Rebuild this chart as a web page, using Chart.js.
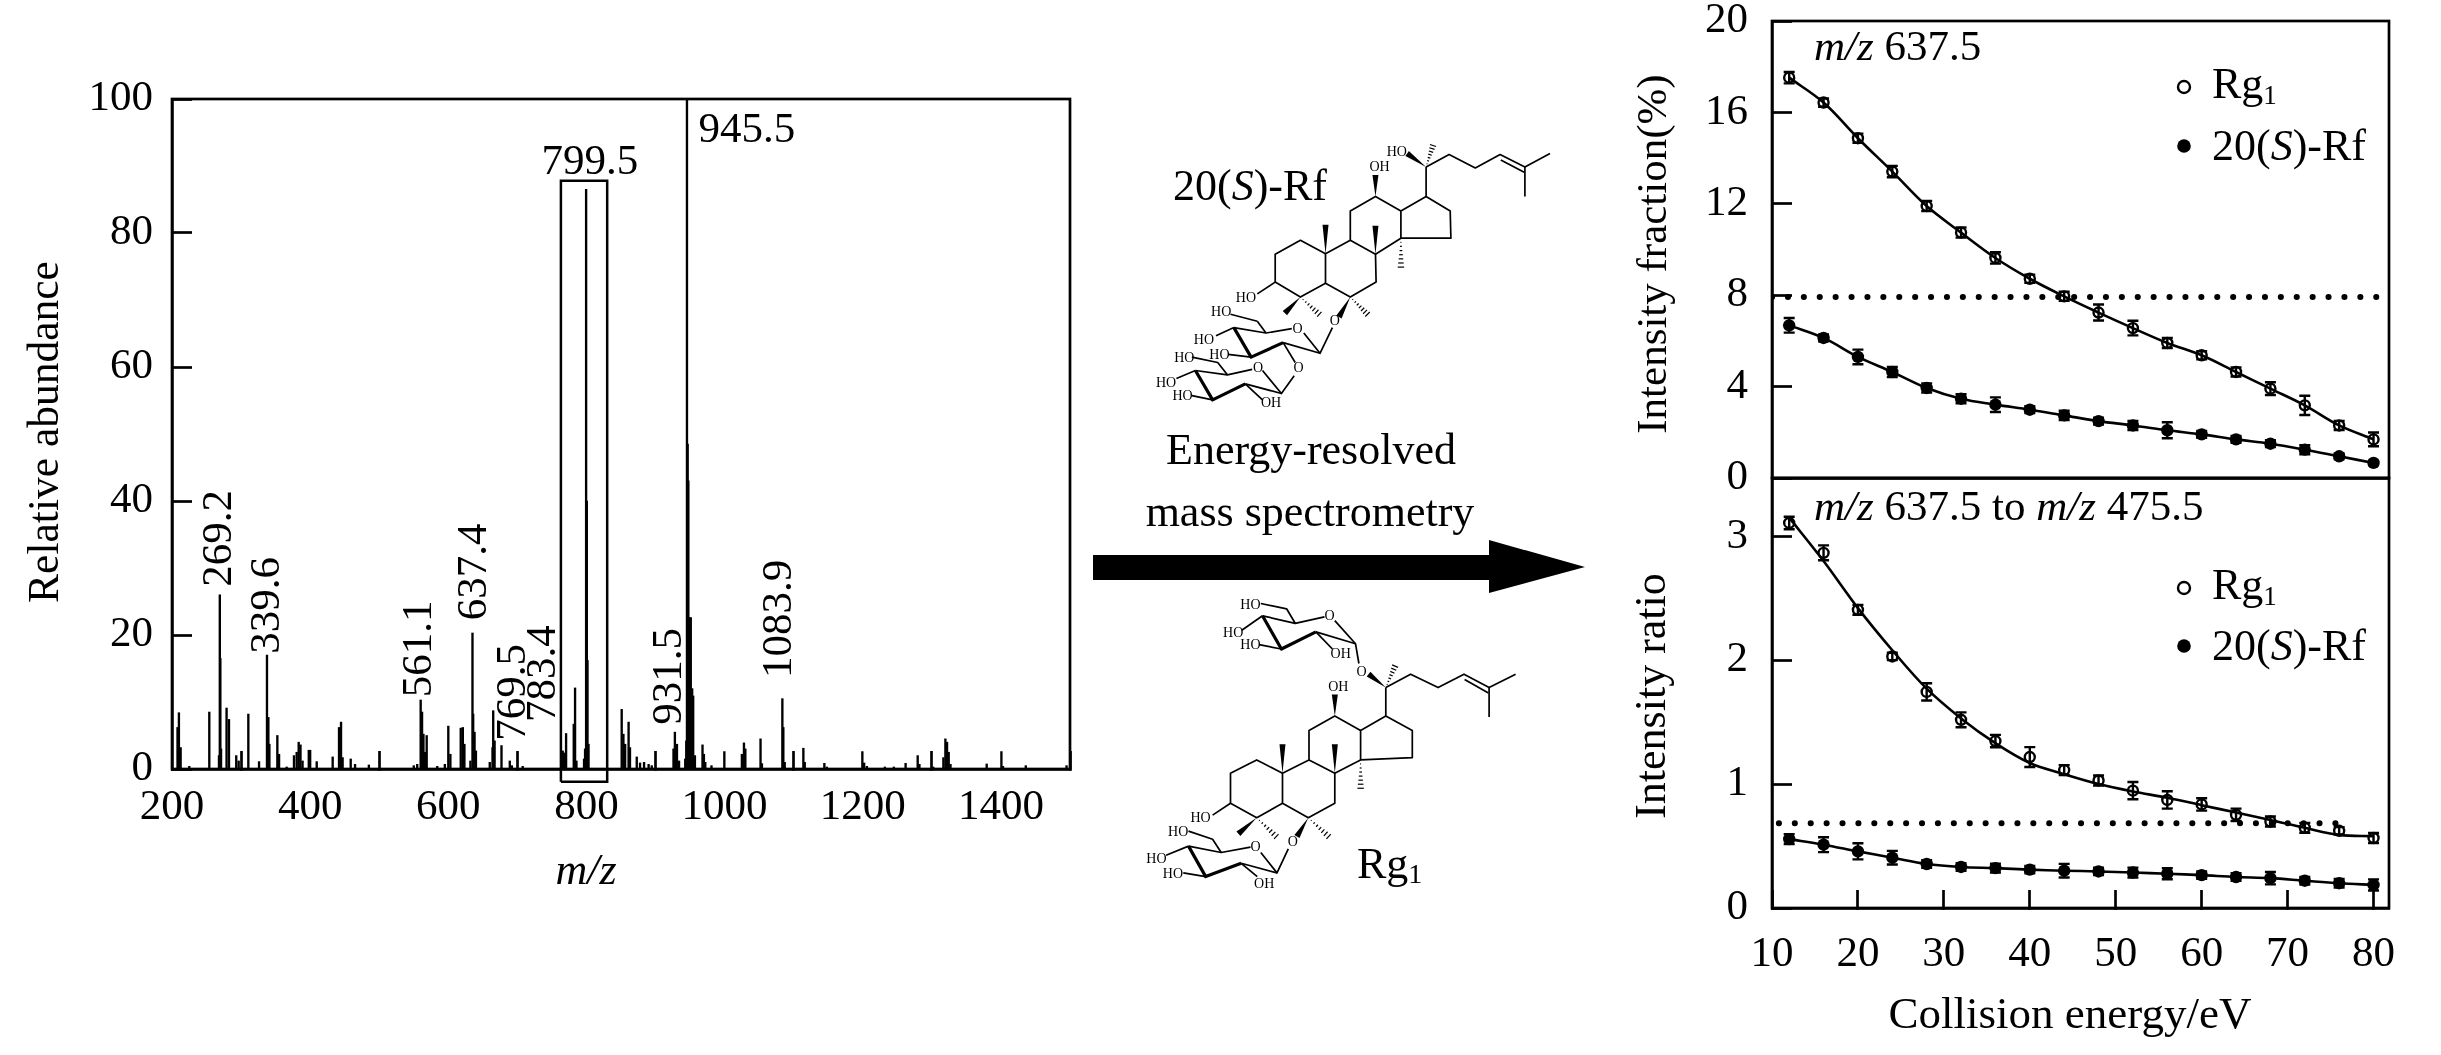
<!DOCTYPE html>
<html>
<head>
<meta charset="utf-8">
<script src="https://cdn.jsdelivr.net/npm/chart.js@4"></script>
<style>
html, body { margin: 0; padding: 0; background: #fff; overflow: hidden; }
canvas, svg { position: absolute; }
svg text { font-family: "Liberation Serif"; fill: #000; }
</style>
</head>
<body>
<canvas id="spectrum" width="1085" height="1055" style="left:0;top:0"></canvas>
<canvas id="fraction" width="841" height="560" style="left:1600px;top:-40px"></canvas>
<canvas id="ratio" width="841" height="625" style="left:1600px;top:430px"></canvas>
<svg id="overlay" width="2441" height="1055" style="left:0;top:0"></svg>
<script>
// spectrum peaks, m/z and relative abundance
const peakMz = [208, 210, 212.5, 225, 254, 268, 269.2, 270, 271, 279, 282.5, 293, 296.5, 310.5, 326, 337.5, 339.5, 341, 352.5, 355, 366,
  376.6, 380.5, 383.4, 386, 389, 398, 400, 409.5, 432.6, 441.8, 444.7, 447, 458.7, 465, 485, 550, 555, 560, 562, 564, 566.5, 568.7,
  584, 595, 600, 603, 618, 621, 623.3, 632, 635, 636, 638, 640, 660, 664, 665, 667, 677, 689, 692, 707.7,
  765.6, 767.5, 770.5, 781.6, 783.5, 785.5, 796.5, 798, 799.5, 800.5, 801.5, 803, 851, 853.5, 856, 861, 863, 872.8, 877.6, 883.4, 890, 894.5,
  926, 928, 931, 934, 943, 944.5, 945.5, 946.5, 947.5, 949, 951, 953, 954.5, 957, 968, 970, 972, 981, 999.6, 1025, 1028, 1030,
  1052, 1054, 1083.6, 1085, 1087, 1114, 1116, 1144.4, 1148, 1199.4, 1202, 1206, 1232, 1245, 1262, 1279.5, 1282, 1302, 1316.7, 1319.6, 1322, 1324.4, 1327,
  1379.4, 1400.7, 1403, 1436, 1495];
const peakAbundance = [6.2, 8.4, 3.2, 0.4, 8.5, 2, 26, 16.5, 3, 9.1, 7.4, 2, 1.2, 8.2, 1.1, 17, 7.7, 3.7, 5, 2.2, 0.3,
  2, 2.5, 4, 3.6, 1.2, 2.8, 2.8, 1.1, 1.8, 6.2, 7, 1.7, 1.5, 0.7, 0.6, 0.5, 0.7, 10.3, 8.5, 5.2, 2.5, 5,
  0.4, 0.7, 6.4, 2.2, 6.1, 6.2, 3.7, 1.2, 20.3, 8.2, 5.5, 2.7, 1, 3.2, 8.7, 4.2, 3.5, 1.2, 0.5, 0.4,
  2.7, 2.4, 5.3, 6.7, 12.1, 1.2, 1.5, 3, 86.5, 40, 16.2, 3.7, 8.9, 5.2, 3.7, 7, 3.2, 1.8, 0.9, 1, 0.7, 0.5,
  3, 5.5, 3.7, 1.2, 1.5, 4.2, 100, 48.5, 43, 22.6, 22.6, 12, 10.9, 2, 3.6, 2.2, 1, 0.5, 2.6, 2.2, 3.9, 3,
  4.5, 0.8, 10.5, 6.2, 1, 3.1, 1, 0.85, 0.3, 2.6, 0.9, 0.4, 0.3, 0.3, 0.85, 2, 0.7, 0.3, 1.7, 4.5, 4, 2.5, 0.7,
  0.75, 2.6, 0.4, 0.5, 0.5];
const massTicks = { min: 200, max: 1500, step: 200 };
// [text, m/z, abundance] - text foot / centre sits at this data position
const uprightLabels = [['269.2', 263.7, 27.2], ['339.6', 332.6, 17.2], ['561.1', 553.2, 10.7], ['637.4', 632.8, 22.2],
  ['769.5', 689.3, 4.2], ['783.4', 732.7, 7], ['931.5', 915, 6.6], ['1083.9', 1074.3, 13.6]];
const flatLabels = [['799.5', 805, 91], ['945.5', 1032.4, 95.7]];
const boxMz = [763, 763, 830, 830, 763];
const boxAbundance = [-1.9, 87.8, 87.8, -1.9, -1.9];

// collision energy curves
const energy = [12, 16, 20, 24, 28, 32, 36, 40, 44, 48, 52, 56, 60, 64, 68, 72, 76, 80];
const fractionRg1 = [17.52, 16.43, 14.87, 13.41, 11.9, 10.74, 9.63, 8.72, 7.95, 7.24, 6.56, 5.91, 5.37, 4.64, 3.91, 3.18, 2.3, 1.69];
const fractionRg1Err = [0.25, 0.18, 0.2, 0.25, 0.22, 0.22, 0.25, 0.18, 0.2, 0.35, 0.32, 0.22, 0.18, 0.2, 0.28, 0.42, 0.2, 0.3];
const fractionRf = [6.68, 6.13, 5.3, 4.64, 3.94, 3.47, 3.21, 2.99, 2.74, 2.49, 2.3, 2.09, 1.91, 1.69, 1.5, 1.24, 0.95, 0.66];
const fractionRfErr = [0.32, 0.15, 0.32, 0.22, 0.2, 0.2, 0.32, 0.15, 0.2, 0.15, 0.2, 0.35, 0.15, 0.15, 0.15, 0.2, 0.12, 0.1];
const ratioRg1 = [3.107, 2.866, 2.406, 2.03, 1.744, 1.519, 1.347, 1.218, 1.113, 1.029, 0.947, 0.872, 0.836, 0.752, 0.698, 0.647, 0.623, 0.565];
const ratioRg1Fit = [3.15, 2.8, 2.42, 2.08, 1.77, 1.53, 1.33, 1.17, 1.08, 1, 0.94, 0.89, 0.83, 0.77, 0.71, 0.647, 0.59, 0.58];
const ratioRg1Err = [0.05, 0.06, 0.04, 0.03, 0.07, 0.06, 0.05, 0.08, 0.04, 0.04, 0.07, 0.07, 0.05, 0.05, 0.04, 0.04, 0.03, 0.04];
const ratioRf = [0.556, 0.511, 0.457, 0.406, 0.355, 0.331, 0.322, 0.31, 0.301, 0.295, 0.286, 0.277, 0.265, 0.25, 0.241, 0.22, 0.2, 0.186];
const ratioRfErr = [0.04, 0.06, 0.065, 0.055, 0.03, 0.03, 0.035, 0.03, 0.055, 0.03, 0.04, 0.045, 0.03, 0.03, 0.05, 0.03, 0.035, 0.045];
const fractionThreshold = { x: [10, 81.8], y: 7.92 };
const ratioThreshold = { x: [10.8, 77.3], y: 0.683 };

const FONT = 'Liberation Serif';
const pairs = (xs, ys) => xs.map((x, i) => ({ x, y: ys[i] }));

// frame round the plot, the axes only give the left and bottom edge
const framePlugin = {
  id: 'frame',
  afterDraw(chart) {
    const { ctx, chartArea: a } = chart;
    ctx.save();
    ctx.strokeStyle = '#000';
    ctx.lineWidth = 2.7;
    ctx.strokeRect(a.left, a.top, a.right - a.left, a.bottom - a.top);
    ctx.restore();
  }
};

const errorPlugin = {
  id: 'errorBars',
  beforeDatasetsDraw(chart) {
    const { ctx, scales } = chart;
    ctx.save();
    ctx.strokeStyle = '#000';
    ctx.lineWidth = 2.4;
    chart.data.datasets.forEach(ds => {
      if (!ds.errors) return;
      ds.data.forEach((p, i) => {
        const x = scales.x.getPixelForValue(p.x);
        const y1 = scales.y.getPixelForValue(p.y - ds.errors[i]);
        const y2 = scales.y.getPixelForValue(p.y + ds.errors[i]);
        ctx.beginPath();
        ctx.moveTo(x, y1); ctx.lineTo(x, y2);
        ctx.moveTo(x - 5.5, y1); ctx.lineTo(x + 5.5, y1);
        ctx.moveTo(x - 5.5, y2); ctx.lineTo(x + 5.5, y2);
        ctx.stroke();
      });
    });
    ctx.restore();
  }
};

const peakLabelPlugin = {
  id: 'peakLabels',
  afterDatasetsDraw(chart) {
    const { ctx, scales } = chart;
    ctx.save();
    ctx.fillStyle = '#000';
    ctx.font = '43px "' + FONT + '"';
    uprightLabels.forEach(([t, mz, ab]) => {
      ctx.save();
      ctx.translate(scales.x.getPixelForValue(mz) + 4, scales.y.getPixelForValue(ab));
      ctx.rotate(-Math.PI / 2);
      ctx.textAlign = 'left';
      ctx.textBaseline = 'middle';
      ctx.fillText(t, 0, 0);
      ctx.restore();
    });
    ctx.textAlign = 'center';
    ctx.textBaseline = 'middle';
    flatLabels.forEach(([t, mz, ab]) => {
      ctx.fillText(t, scales.x.getPixelForValue(mz), scales.y.getPixelForValue(ab) + 3);
    });
    ctx.restore();
  }
};

function yAxis(min, max, step, width, padding) {
  return {
    min, max,
    afterFit(s) { s.width = width; s.paddingTop = 0; s.paddingBottom = 0; },
    border: { width: 2.7, color: '#000' },
    grid: { drawOnChartArea: false, tickLength: -20, tickWidth: 2.7, tickColor: '#000' },
    ticks: { stepSize: step, includeBounds: false, padding, color: '#000', font: { family: FONT, size: 43 }, autoSkip: false }
  };
}

function xAxis(min, max, step, height, padding, showTicks) {
  return {
    type: 'linear', min, max, offset: false,
    afterFit(s) { s.height = height; s.paddingLeft = 0; s.paddingRight = 0; },
    border: { width: 2.7, color: '#000' },
    grid: { drawOnChartArea: false, drawTicks: showTicks, tickLength: -18, tickWidth: 2.7, tickColor: '#000' },
    ticks: { display: showTicks, stepSize: step, includeBounds: false, padding, maxRotation: 0, autoSkip: false,
      callback: v => String(v), color: '#000', font: { family: FONT, size: 43 } }
  };
}

new Chart(document.getElementById('spectrum'), {
  type: 'bar',
  data: {
    datasets: [
      { data: pairs(peakMz, peakAbundance), backgroundColor: '#000', barThickness: 1.7, grouped: false },
      { type: 'line', data: pairs(boxMz, boxAbundance), borderColor: '#000', borderWidth: 2.5, pointRadius: 0, tension: 0, clip: false }
    ]
  },
  options: {
    responsive: false, animation: false, devicePixelRatio: 1,
    layout: { padding: { top: 99, right: 15 } },
    plugins: { legend: { display: false }, tooltip: { enabled: false } },
    scales: {
      x: xAxis(massTicks.min, massTicks.max, massTicks.step, 286, 31, true),
      y: yAxis(0, 100, 20, 172, 39)
    }
  },
  plugins: [framePlugin, peakLabelPlugin]
});

function curveSets(values, fit, errors, threshold) {
  const curve = (v, e, f) => ({
    data: pairs(energy, v), errors: e, showLine: false,
    pointRadius: f ? 6.2 : 5, borderWidth: f ? 0 : 2.4,
    pointBorderColor: '#000', pointBackgroundColor: f ? '#000' : 'rgba(0,0,0,0)'
  });
  const line = v => ({ data: pairs(energy, v), showLine: true, pointRadius: 0, borderColor: '#000', borderWidth: 2.6, tension: 0.35 });
  return [
    { data: pairs(threshold.x, [threshold.y, threshold.y]), showLine: true, pointRadius: 0, borderColor: '#000',
      borderWidth: 6, borderDash: [0.1, 15.8], borderCapStyle: 'round' },
    line(fit[0]), line(fit[1]),
    curve(values[0], errors[0], false), curve(values[1], errors[1], true)
  ];
}

new Chart(document.getElementById('fraction'), {
  type: 'scatter',
  data: { datasets: curveSets([fractionRg1, fractionRf], [fractionRg1, fractionRf], [fractionRg1Err, fractionRfErr], fractionThreshold) },
  options: {
    responsive: false, animation: false, devicePixelRatio: 1,
    layout: { padding: { top: 61, right: 52 } },
    plugins: { legend: { display: false }, tooltip: { enabled: false } },
    scales: {
      x: xAxis(10, 81.8, 10, 42, 30, false),
      y: yAxis(0, 20, 4, 172, 44)
    }
  },
  plugins: [framePlugin, errorPlugin]
});

new Chart(document.getElementById('ratio'), {
  type: 'scatter',
  data: { datasets: curveSets([ratioRg1, ratioRf], [ratioRg1Fit, ratioRf], [ratioRg1Err, ratioRfErr], ratioThreshold) },
  options: {
    responsive: false, animation: false, devicePixelRatio: 1,
    layout: { padding: { top: 48, right: 52 } },
    plugins: { legend: { display: false }, tooltip: { enabled: false } },
    scales: {
      x: xAxis(10, 81.8, 10, 147, 39, true),
      y: yAxis(0, 3.47, 1, 172, 44)
    }
  },
  plugins: [framePlugin, errorPlugin]
});

// everything that is not a chart: axis titles, notes, legends, the two structures
const svg = document.getElementById('overlay');
const NS = 'http://www.w3.org/2000/svg';
function add(tag, attrs, html) {
  const el = document.createElementNS(NS, tag);
  for (const k in attrs) el.setAttribute(k, attrs[k]);
  if (html) el.innerHTML = html;
  svg.appendChild(el);
  return el;
}
function text(html, x, y, size, opts) {
  opts = opts || {};
  const attrs = { x, y, 'font-size': size, 'text-anchor': opts.anchor || 'start' };
  if (opts.rot) attrs.transform = 'rotate(' + opts.rot + ' ' + x + ' ' + y + ')';
  if (opts.mid) attrs['dominant-baseline'] = 'central';
  return add('text', attrs, html);
}
const it = s => '<tspan font-style="italic">' + s + '</tspan>';
const sub = s => '<tspan font-size="27" dy="6">' + s + '</tspan>';

text('Relative abundance', 43, 432, 43.5, { anchor: 'middle', rot: -90, mid: true });
text(it('m/z'), 586, 884, 44, { anchor: 'middle' });
text('Intensity fraction(%)', 1651, 254, 43, { anchor: 'middle', rot: -90, mid: true });
text('Intensity ratio', 1650, 696, 44, { anchor: 'middle', rot: -90, mid: true });
text('Collision energy/eV', 2070, 1028, 45, { anchor: 'middle' });
text(it('m/z') + ' 637.5', 1814, 60, 43);
text(it('m/z') + ' 637.5 to ' + it('m/z') + ' 475.5', 1814, 520, 43);

function legend(y1, y2) {
  add('circle', { cx: 2184, cy: y1, r: 6, fill: 'none', stroke: '#000', 'stroke-width': 2.4 });
  text('Rg' + sub('1'), 2212, y1 + 11, 44);
  add('circle', { cx: 2184, cy: y2, r: 6.8, fill: '#000' });
  text('20(' + it('S') + ')-Rf', 2212, y2 + 14, 44);
}
legend(87, 146);
legend(588, 646);

// structures, noted in crop coordinates and mapped on the page here
const mx = X => 1080 + X / 2.904, my = Y => 100 + Y / 1.867;
function bonds(list, width) {
  list.forEach(pts => {
    add('polyline', { points: pts.map(p => mx(p[0]).toFixed(1) + ',' + my(p[1]).toFixed(1)).join(' '),
      fill: 'none', stroke: '#000', 'stroke-width': width || 1.7, 'stroke-linejoin': 'round' });
  });
}
function wedge(a, b) {
  const dx = mx(b[0]) - mx(a[0]), dy = my(b[1]) - my(a[1]), l = Math.hypot(dx, dy);
  const nx = -dy / l * 3, ny = dx / l * 3;
  add('polygon', { points: [mx(a[0]), my(a[1]), mx(b[0]) + nx, my(b[1]) + ny, mx(b[0]) - nx, my(b[1]) - ny].join(' '), fill: '#000' });
}
function hash(a, b) {
  const x0 = mx(a[0]), y0 = my(a[1]), x1 = mx(b[0]), y1 = my(b[1]);
  const l = Math.hypot(x1 - x0, y1 - y0), nx = -(y1 - y0) / l, ny = (x1 - x0) / l;
  for (let i = 1; i <= 7; i++) {
    const t = i / 7, w = t * 3.2, x = x0 + (x1 - x0) * t, y = y0 + (y1 - y0) * t;
    add('line', { x1: x - nx * w, y1: y - ny * w, x2: x + nx * w, y2: y + ny * w, stroke: '#000', 'stroke-width': 1.2 });
  }
}
function atoms(list) {
  list.forEach(a => text(a[0], mx(a[1]), my(a[2]), 14, { anchor: 'middle', mid: true }));
}

// 20(S)-Rf
bonds([
  [[1005, 125], [1072, 102], [1148, 127], [1220, 102], [1292, 125], [1365, 100]], [[1222, 112], [1290, 135]], [[1292, 125], [1292, 180]],
  [[1005, 125], [1005, 180], [1075, 207], [1077, 258], [932, 258], [932, 207], [1005, 180]],
  [[932, 207], [858, 180], [785, 207], [785, 262], [858, 288], [932, 258]],
  [[785, 262], [713, 287], [713, 342], [785, 368], [860, 340], [858, 288]],
  [[713, 287], [640, 262], [567, 288], [567, 340], [640, 368], [713, 342]],
  [[567, 340], [515, 362]],
  [[733, 425], [697, 473], [650, 435]], [[615, 427], [540, 435], [447, 425]], [[515, 413], [540, 435]], [[515, 413], [437, 400]],
  [[447, 425], [395, 440]], [[430, 475], [497, 480]], [[590, 453], [625, 490]], [[590, 453], [697, 473]],
  [[622, 515], [585, 548], [530, 505]], [[500, 503], [428, 513], [335, 505]], [[428, 513], [400, 490], [325, 480]],
  [[335, 505], [280, 520]], [[385, 560], [325, 552]], [[480, 530], [530, 560]], [[480, 530], [585, 548]]
]);
bonds([[[447, 425], [497, 480], [590, 453]], [[335, 505], [385, 560], [480, 530]]], 3.2);
wedge([1005, 125], [950, 100]); hash([1005, 125], [1025, 85]);
wedge([858, 180], [858, 140]); wedge([713, 287], [713, 233]); wedge([858, 288], [858, 235]);
hash([932, 258], [932, 312]); wedge([640, 368], [595, 398]); hash([640, 368], [695, 400]);
hash([785, 368], [835, 400]); wedge([785, 368], [752, 405]);
atoms([['HO', 920, 97], ['OH', 870, 125], ['HO', 482, 368], ['O', 740, 412], ['O', 632, 427], ['HO', 410, 395], ['HO', 360, 448],
  ['HO', 405, 475], ['O', 635, 500], ['O', 517, 500], ['HO', 303, 480], ['HO', 250, 527], ['HO', 298, 552], ['OH', 555, 565]]);
text('20(' + it('S') + ')-Rf', 1173, 200, 44);

// Rg1
bonds([
  [[888, 1097], [960, 1072], [1040, 1097], [1115, 1072], [1188, 1097], [1265, 1072]], [[1117, 1082], [1186, 1107]], [[1188, 1097], [1188, 1152]],
  [[888, 1097], [888, 1150], [965, 1177], [965, 1228], [815, 1232], [815, 1177], [888, 1150]],
  [[815, 1177], [740, 1150], [665, 1177], [665, 1232], [740, 1257], [815, 1232]],
  [[665, 1232], [588, 1257], [588, 1313], [663, 1340], [740, 1313], [740, 1257]],
  [[588, 1257], [513, 1232], [437, 1257], [437, 1313], [513, 1340], [588, 1313]],
  [[437, 1313], [385, 1335]],
  [[605, 1398], [572, 1443], [525, 1405]], [[495, 1395], [410, 1405], [315, 1393]], [[410, 1405], [385, 1380], [315, 1365]],
  [[315, 1393], [250, 1410]], [[365, 1450], [300, 1443]], [[468, 1425], [515, 1450]], [[468, 1425], [572, 1443]],
  [[810, 1052], [800, 1015], [740, 972]], [[710, 965], [625, 977], [530, 963]], [[625, 977], [600, 950], [525, 940]],
  [[530, 963], [470, 990]], [[585, 1025], [520, 1017]], [[685, 993], [733, 1025]], [[685, 993], [800, 1015]]
]);
bonds([[[315, 1393], [365, 1450], [468, 1425]], [[530, 963], [585, 1025], [685, 993]]], 3.2);
wedge([888, 1097], [838, 1072]); hash([888, 1097], [915, 1057]);
wedge([740, 1150], [740, 1110]); wedge([588, 1257], [588, 1203]); wedge([740, 1257], [740, 1203]);
hash([815, 1232], [815, 1285]); wedge([513, 1340], [460, 1370]); hash([513, 1340], [570, 1375]);
hash([663, 1340], [722, 1375]); wedge([663, 1340], [630, 1375]);
atoms([['O', 818, 1067], ['OH', 750, 1095], ['HO', 350, 1340], ['O', 618, 1385], ['O', 510, 1393], ['HO', 285, 1365], ['HO', 222, 1417],
  ['HO', 270, 1445], ['OH', 535, 1462], ['O', 725, 963], ['HO', 495, 942], ['HO', 445, 995], ['HO', 495, 1017], ['OH', 757, 1033]]);
text('Rg<tspan font-size="28" dy="5">1</tspan>', 1357, 878, 44);

// reaction arrow with its caption
text('Energy-resolved', 1311, 464, 44, { anchor: 'middle' });
text('mass spectrometry', 1310, 526, 44, { anchor: 'middle' });
add('polygon', { points: '1093,555 1489,555 1489,540 1585,567 1489,593 1489,580 1093,580', fill: '#000' });
</script>
</body>
</html>
